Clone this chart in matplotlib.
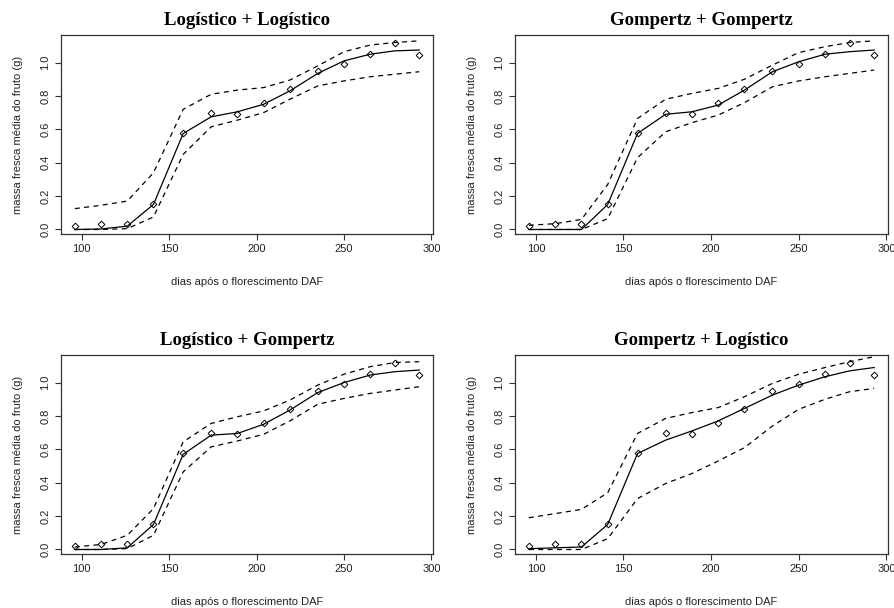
import matplotlib
matplotlib.use("Agg")
import matplotlib.pyplot as plt

# Observed data (days after flowering, mean fresh fruit mass)
dias = [96, 111, 126, 141, 158, 174, 189, 204, 219, 235, 250, 265, 279, 293]
massa_obs = [0.02, 0.035, 0.035, 0.155, 0.575, 0.70, 0.69, 0.76, 0.84,
             0.95, 0.99, 1.05, 1.12, 1.045]

# Logistico + Logistico
ll_fit = [0.0, 0.003, 0.02, 0.15, 0.575, 0.675, 0.705, 0.75, 0.83, 0.935,
          1.01, 1.05, 1.07, 1.075]
ll_sup = [0.125, 0.145, 0.17, 0.34, 0.72, 0.81, 0.835, 0.85, 0.895, 0.98,
          1.065, 1.105, 1.12, 1.13]
ll_inf = [0.0, 0.0, 0.005, 0.075, 0.45, 0.615, 0.655, 0.70, 0.78, 0.86,
          0.89, 0.915, 0.93, 0.945]

# Gompertz + Gompertz
gg_fit = [0.0, 0.0, 0.0, 0.15, 0.575, 0.69, 0.705, 0.745, 0.835, 0.945,
          1.005, 1.05, 1.065, 1.075]
gg_sup = [0.025, 0.035, 0.06, 0.27, 0.665, 0.78, 0.815, 0.845, 0.90, 0.985,
          1.06, 1.095, 1.12, 1.13]
gg_inf = [0.0, 0.0, 0.0, 0.065, 0.43, 0.585, 0.64, 0.685, 0.76, 0.855,
          0.89, 0.915, 0.935, 0.955]

# Logistico + Gompertz
lg_fit = [0.0, 0.0, 0.01, 0.15, 0.57, 0.685, 0.695, 0.75, 0.835, 0.94,
          1.0, 1.045, 1.065, 1.075]
lg_sup = [0.015, 0.03, 0.085, 0.245, 0.645, 0.755, 0.795, 0.83, 0.895, 0.985,
          1.05, 1.095, 1.12, 1.125]
lg_inf = [0.0, 0.0, 0.005, 0.085, 0.465, 0.615, 0.65, 0.69, 0.77, 0.87,
          0.905, 0.935, 0.955, 0.975]

# Gompertz + Logistico
gl_fit = [0.005, 0.01, 0.015, 0.15, 0.575, 0.655, 0.71, 0.77, 0.845, 0.925,
          0.985, 1.035, 1.07, 1.09]
gl_sup = [0.19, 0.215, 0.24, 0.34, 0.695, 0.785, 0.82, 0.85, 0.915, 0.995,
          1.05, 1.09, 1.125, 1.155]
gl_inf = [0.0, 0.0, 0.0, 0.065, 0.305, 0.395, 0.455, 0.53, 0.61, 0.74,
          0.84, 0.90, 0.945, 0.965]

titulos = ["Logístico + Logístico", "Gompertz + Gompertz",
           "Logístico + Gompertz", "Gompertz + Logístico"]
ajustes = [(ll_fit, ll_sup, ll_inf), (gg_fit, gg_sup, gg_inf),
           (lg_fit, lg_sup, lg_inf), (gl_fit, gl_sup, gl_inf)]

W, H = 895, 608
# axes boxes in pixels: left, top, right, bottom
caixas = [(61, 35, 433, 234), (515, 35, 888, 234),
          (61, 355, 433, 554), (515, 355, 888, 554)]

fig = plt.figure(figsize=(W / 100, H / 100), dpi=100)
fig.patch.set_facecolor("white")

cor_txt = "#222222"

for (l, t, r, b), titulo, (fit, sup, inf) in zip(caixas, titulos, ajustes):
    ax = fig.add_axes([l / W, 1 - b / H, (r - l) / W, (b - t) / H])

    ax.plot(dias, massa_obs, linestyle="none", marker="D", markersize=3.4,
            markerfacecolor="none", markeredgecolor="black", markeredgewidth=0.7)
    ax.plot(dias, fit, color="black", lw=0.9)
    ax.plot(dias, sup, color="black", lw=0.9, dashes=(4, 3.5))
    ax.plot(dias, inf, color="black", lw=0.9, dashes=(4, 3.5))

    ax.set_xlim(88.1, 300.9)
    ax.set_ylim(-0.027, 1.165)
    ax.set_xticks([100, 150, 200, 250, 300])
    ax.set_yticks([0.0, 0.2, 0.4, 0.6, 0.8, 1.0])
    ax.set_yticklabels(["0.0", "0.2", "0.4", "0.6", "0.8", "1.0"])

    for s in ax.spines.values():
        s.set_color("#333333")
        s.set_linewidth(0.9)

    ax.tick_params(direction="out", length=4, width=0.8, colors="#333333",
                   labelsize=8, labelcolor=cor_txt)
    ax.tick_params(axis="y", labelrotation=90)
    for lab in ax.get_yticklabels():
        lab.set_va("center")
    for lab in ax.get_xticklabels() + ax.get_yticklabels():
        lab.set_family("Liberation Sans")

    ax.set_xlabel("dias após o florescimento DAF", fontsize=8,
                  family="Liberation Sans", color=cor_txt, labelpad=16)
    ax.set_ylabel("massa fresca média do fruto (g)", fontsize=8,
                  family="Liberation Sans", color=cor_txt, labelpad=13)
    ax.set_title(titulo, fontsize=13.5, family="Liberation Serif",
                 fontweight="bold", pad=7)

fig.savefig("out.png", dpi=100, facecolor="white")
